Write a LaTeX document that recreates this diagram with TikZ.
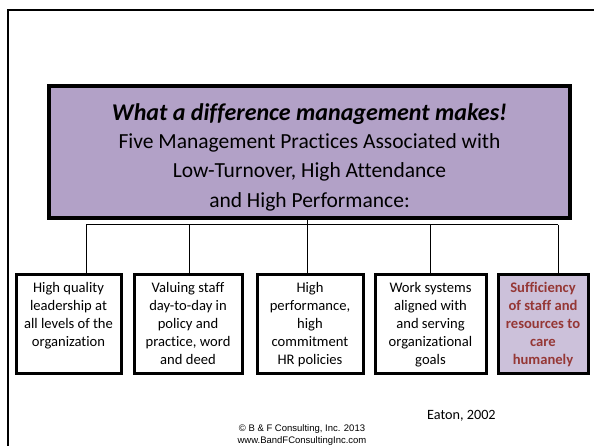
\documentclass[tikz,border=0pt]{standalone}
\usepackage{fontspec}
\setmainfont{Carlito}[Ligatures=NoCommon]
\newfontfamily\arialfont{Liberation Sans}
\definecolor{lavender}{HTML}{B2A1C7}
\definecolor{palelav}{HTML}{CCC1DA}
\definecolor{darkred}{HTML}{953735}
\tikzset{
  titlebox/.style={draw=black, line width=3.2pt, fill=lavender, inner sep=0pt},
  titletext/.style={align=center, inner sep=0pt, font=\fontsize{21.5}{29.3}\selectfont},
  practice/.style={draw=black, line width=3pt, fill=white, inner sep=2pt,
    font=\fontsize{14.6}{18}\selectfont},
  keypractice/.style={practice, fill=palelav, text=darkred, font=\fontsize{14.6}{18}\selectfont\bfseries},
  link/.style={draw=black, line width=1pt},
  credit/.style={inner sep=0pt, font=\arialfont\fontsize{9.5}{12}\selectfont}
}
\newcommand{\boxtext}[2]{\parbox[c][94pt][t]{#1}{\centering\vspace*{3pt}\strut #2}}
\begin{document}
\begin{tikzpicture}[x=1pt, y=-1pt]
  \useasboundingbox (0,0) rectangle (594,446);
  % slide frame, open to the right and bottom
  \draw[line width=2.5pt, line join=miter] (8,450) -- (8,10) -- (600,10);

  % heading
  \node[titlebox, minimum width=521pt, minimum height=132pt] (title) at (309.5,152) {};
  \node[titletext] (heading) at (309.5,157.5)
    {{\fontsize{24}{29.3}\selectfont\bfseries\itshape What a difference management makes!}\\[-1.5pt]
     Five Management Practices Associated with\\
     Low-Turnover, High Attendance\\
     and High Performance:};

  % the five practices
  \node[practice] (b1) at (68.5,324) {\boxtext{101pt}{High quality\\ leadership at\\ all levels of the\\ organization}};
  \node[practice] (b2) at (188,324) {\boxtext{104pt}{Valuing staff\\ day-to-day in\\ policy and\\ practice, word\\ and deed}};
  \node[practice] (b3) at (310,324) {\boxtext{102pt}{High\\ performance,\\ high\\ commitment\\ HR policies}};
  \node[practice] (b4) at (430.5,324) {\boxtext{107pt}{Work systems\\ aligned with\\ and serving\\ organizational\\ goals}};
  \node[keypractice] (b5) at (543,324) {\boxtext{86pt}{Sufficiency\\ of staff and\\ resources to\\ care\\ humanely}};

  % tree connectors
  \coordinate (hub) at (307,225);
  \coordinate (j1) at (86,225);
  \coordinate (j2) at (189,225);
  \coordinate (j4) at (430,225);
  \coordinate (j5) at (558,225);
  \draw[link] (hub |- title.south) -- (hub);
  \draw[link] (j1) -- (j5);
  \draw[link] (j1) -- (j1 |- b1.north);
  \draw[link] (j2) -- (j2 |- b2.north);
  \draw[link] (hub) -- (hub |- b3.north);
  \draw[link] (j4) -- (j4 |- b4.north);
  \draw[link] (j5) -- (j5 |- b5.north);

  % source and credits
  \node[anchor=west, inner sep=0pt, font=\fontsize{14.2}{17}\selectfont] (source) at (427,416) {Eaton, 2002};
  \node[credit] (copy) at (302,429) {\textcopyright\ B \& F Consulting, Inc. 2013};
  \node[credit] (web) at (302,441) {www.BandFConsultingInc.com};
\end{tikzpicture}
\end{document}
